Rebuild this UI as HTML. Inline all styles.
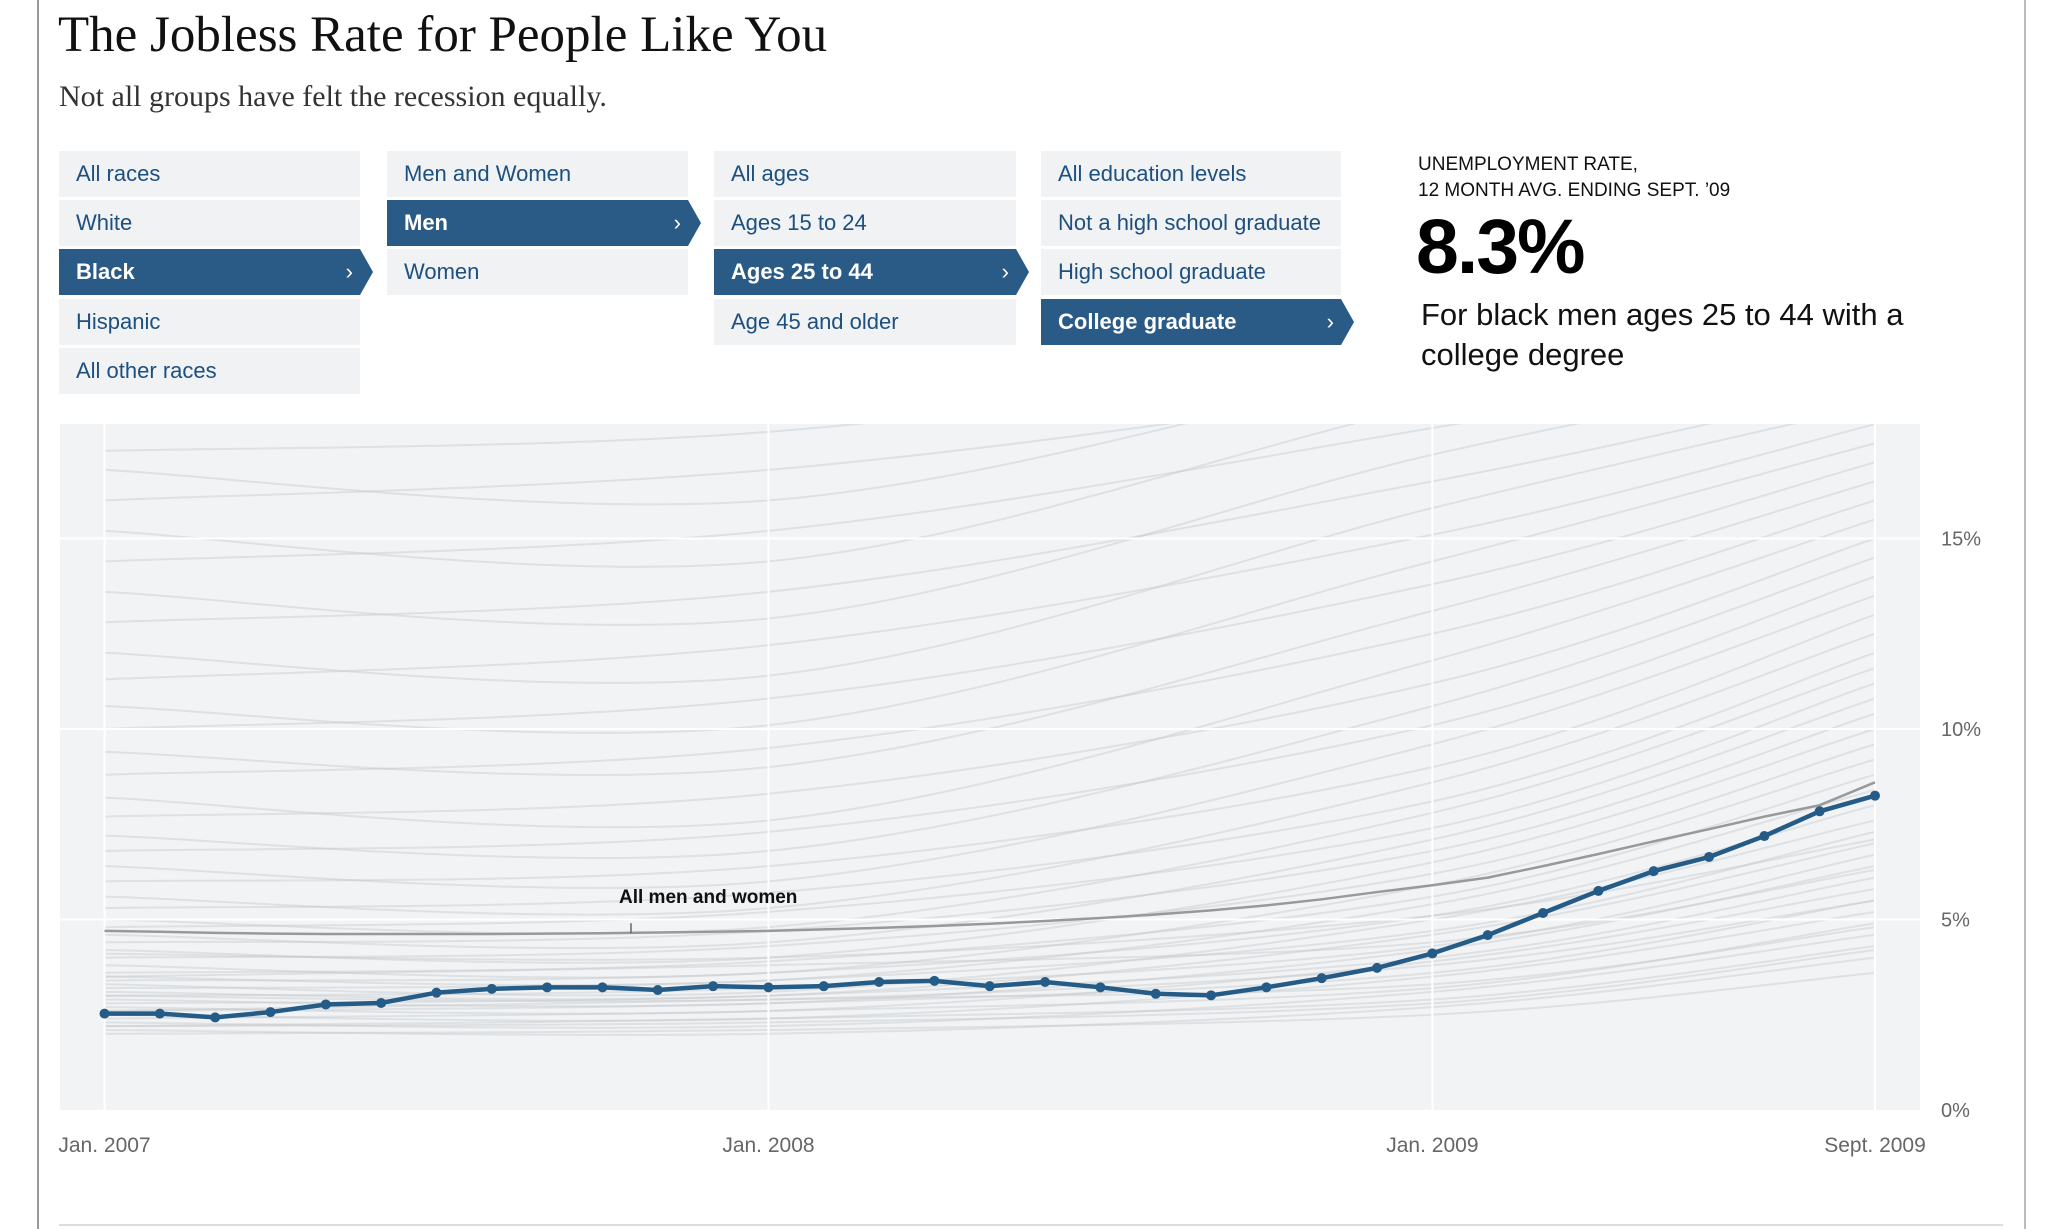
<!DOCTYPE html>
<html><head><meta charset="utf-8"><style>
body{margin:0;width:2048px;height:1229px;background:#fff;position:relative;overflow:hidden;font-family:"Liberation Sans",sans-serif}
.frame{position:absolute;left:37px;top:0;width:1985px;height:1229px;border-left:2px solid #999;border-right:2px solid #bbb}
h1{position:absolute;left:58px;top:6px;margin:0;font:400 51px "Liberation Serif",serif;color:#111;white-space:nowrap}
.sub{position:absolute;left:59px;top:80px;font:400 30px "Liberation Serif",serif;color:#333;white-space:nowrap}
.btn{position:absolute;height:46px;line-height:46px;background:#f0f2f4;color:#1d4f7f;font-size:22px;padding-left:17px;box-sizing:border-box;white-space:nowrap}
.btn.sel{background:#2a5a86;color:#fff;font-weight:bold;clip-path:polygon(0 0,calc(100% - 13px) 0,100% 50%,calc(100% - 13px) 100%,0 100%)}
.btn.sel .chev{position:absolute;right:20px;top:0;font-weight:normal}
.lab{position:absolute;left:1418px;font-size:19px;color:#111;white-space:nowrap}
.big{position:absolute;left:1416px;top:203px;font:bold 77px "Liberation Sans",sans-serif;color:#000;letter-spacing:-2px}
.desc{position:absolute;left:1421px;top:295px;font-size:31px;line-height:40px;color:#111;width:560px}
.bottom{position:absolute;left:59px;top:1224px;width:1944px;height:2px;background:#ddd}
svg{position:absolute;left:0;top:0}
</style></head><body>
<div class="frame"></div>
<h1>The Jobless Rate for People Like You</h1>
<div class="sub">Not all groups have felt the recession equally.</div>

<div class="btn" style="left:59px;top:151px;width:301px">All races</div>
<div class="btn" style="left:59px;top:200px;width:301px">White</div>
<div class="btn sel" style="left:59px;top:249px;width:314px">Black<span class="chev">›</span></div>
<div class="btn" style="left:59px;top:299px;width:301px">Hispanic</div>
<div class="btn" style="left:59px;top:348px;width:301px">All other races</div>

<div class="btn" style="left:387px;top:151px;width:301px">Men and Women</div>
<div class="btn sel" style="left:387px;top:200px;width:314px">Men<span class="chev">›</span></div>
<div class="btn" style="left:387px;top:249px;width:301px">Women</div>

<div class="btn" style="left:714px;top:151px;width:302px">All ages</div>
<div class="btn" style="left:714px;top:200px;width:302px">Ages 15 to 24</div>
<div class="btn sel" style="left:714px;top:249px;width:315px">Ages 25 to 44<span class="chev">›</span></div>
<div class="btn" style="left:714px;top:299px;width:302px">Age 45 and older</div>

<div class="btn" style="left:1041px;top:151px;width:300px">All education levels</div>
<div class="btn" style="left:1041px;top:200px;width:300px">Not a high school graduate</div>
<div class="btn" style="left:1041px;top:249px;width:300px">High school graduate</div>
<div class="btn sel" style="left:1041px;top:299px;width:313px">College graduate<span class="chev">›</span></div>

<div class="lab" style="top:154px">UNEMPLOYMENT RATE,</div>
<div class="lab" style="top:180px">12 MONTH AVG. ENDING SEPT. ’09</div>
<div class="big">8.3%</div>
<div class="desc">For black men ages 25 to 44 with a college degree</div>

<svg id="chart" width="2048" height="1229"></svg>
<div class="bottom"></div>

<script>
const groupRate = [2.53,2.53,2.43,2.57,2.77,2.81,3.08,3.18,3.22,3.22,3.15,3.25,3.22,3.25,3.36,3.39,3.25,3.36,3.22,3.05,3.01,3.22,3.46,3.73,4.11,4.59,5.17,5.75,6.27,6.64,7.19,7.84,8.25];
const allRate = [4.7,4.68,4.65,4.63,4.62,4.62,4.62,4.62,4.63,4.64,4.66,4.68,4.7,4.74,4.78,4.83,4.89,4.96,5.04,5.13,5.24,5.37,5.53,5.72,5.9,6.1,6.4,6.72,7.05,7.37,7.7,8.0,8.6];
const yTicks = [0,5,10,15];
const xTickLabels = ["Jan. 2007","Jan. 2008","Jan. 2009","Sept. 2009"];
const xTickMonths = [0,12,24,32];
// background groups: values at Jan07, Jan08, Jan09, Sept09
const bgJan07 = [2.0,2.1,2.2,2.3,2.4,2.5,2.6,2.7,2.8,2.9,3.0,3.1,3.2,3.3,3.4,3.5,3.6,3.8,4.0,4.2,4.4,4.6,4.8,5.0,5.3,5.6,6.0,6.4,6.8,7.2,7.7,8.2,8.8,9.4,10.0,10.6,11.3,12.0,12.8,13.6,14.4,15.2,16.0,16.8,17.3,2.2,2.6,3.0,3.5,4.1];
const bgJan08 = [2.1,2.0,2.4,2.2,2.6,2.4,2.8,2.6,3.0,2.8,3.2,3.0,3.4,3.1,3.6,3.4,3.9,3.6,4.3,4.0,4.7,4.4,5.2,4.8,5.7,5.3,6.4,6.0,7.3,6.8,8.3,7.6,9.5,9.0,10.8,10.1,12.2,11.4,13.6,12.9,15.2,14.4,16.8,16.0,17.8,2.3,2.9,2.9,3.8,4.0];
const bgJan09 = [2.5,2.7,2.9,3.1,3.2,3.5,3.6,3.9,4.0,4.2,4.3,4.6,4.7,5.0,5.1,5.4,5.6,5.9,6.2,6.5,6.8,7.1,7.4,7.8,8.1,8.6,9.0,9.6,10.1,10.6,11.2,11.8,12.5,13.1,13.8,14.4,15.1,15.8,16.5,17.2,17.9,18.5,19.0,19.5,20.0,2.8,3.3,3.8,4.4,5.1];
const bgSep09 = [3.6,4.0,4.3,4.6,4.9,5.2,5.5,5.8,6.1,6.4,6.7,7.0,7.3,7.6,8.0,8.4,8.8,9.2,9.6,10.0,10.4,10.8,11.2,11.6,12.0,12.5,13.0,13.5,14.0,14.5,15.0,15.5,16.0,16.5,17.0,17.5,18.0,18.5,19.0,19.5,20.0,20.5,21.0,21.5,22.0,4.2,4.8,5.5,6.3,7.1];

const NS="http://www.w3.org/2000/svg";
const svg=document.getElementById('chart');
const X0=104.5,X1=1875,Y0=1110,PER=38.1;
const xs=m=>X0+m*(X1-X0)/32;
const ys=v=>Y0-v*PER;
function el(t,a,p){const e=document.createElementNS(NS,t);for(const k in a)e.setAttribute(k,a[k]);(p||svg).appendChild(e);return e;}

const bg=el('rect',{x:60,y:424,width:1860,height:686,fill:'#f1f3f5'});


const defs=el('defs',{});
const cp=el('clipPath',{id:'clip'},defs);
el('rect',{x:60,y:424,width:1860,height:686},cp);
const g=el('g',{'clip-path':'url(#clip)'});


for(let i=0;i<bgJan07.length;i++){
  const pts=[[0,bgJan07[i]],[12,bgJan08[i]],[24,bgJan09[i]],[32,bgSep09[i]]];
  let d=`M${xs(pts[0][0])},${ys(pts[0][1])}`;
  for(let k=0;k<3;k++){
    const p0=pts[Math.max(k-1,0)],p1=pts[k],p2=pts[k+1],p3=pts[Math.min(k+2,3)];
    const c1x=xs(p1[0])+(xs(p2[0])-xs(p0[0]))/6,c1y=ys(p1[1])+(ys(p2[1])-ys(p0[1]))/6;
    const c2x=xs(p2[0])-(xs(p3[0])-xs(p1[0]))/6,c2y=ys(p2[1])-(ys(p3[1])-ys(p1[1]))/6;
    d+=` C${c1x},${c1y} ${c2x},${c2y} ${xs(p2[0])},${ys(p2[1])}`;
  }
  const p=el('path',{d:d,fill:'none',stroke:'#c4c6c9','stroke-width':2,opacity:0.4},g);
  
  
}
yTicks.forEach(t=>{
  if(t>0){const l=el('line',{x1:60,x2:1920,y1:ys(t),y2:ys(t),stroke:'#fff','stroke-width':2});
  
  }
  const tx=el('text',{x:1941,y:ys(t)+7,'font-size':20,fill:'#666','font-family':'Liberation Sans, sans-serif'});
  tx.textContent=t+'%';
  
  
});
xTickMonths.forEach((m,i)=>{
  const l=el('line',{x1:xs(m),x2:xs(m),y1:424,y2:1110,stroke:'#fff','stroke-width':2});
  
  
  const tx=el('text',{x:xs(m),y:1152,'font-size':21,fill:'#666','text-anchor':'middle','font-family':'Liberation Sans, sans-serif'});
  tx.textContent=xTickLabels[i];
  
  
});
const al=el('polyline',{points:allRate.map((v,i)=>xs(i)+','+ys(v)).join(' '),fill:'none',stroke:'#999','stroke-width':2.5});


const tick=el('line',{x1:631,x2:631,y1:ys(allRate[9])-10,y2:ys(allRate[9]),stroke:'#666','stroke-width':1.5});


const at=el('text',{x:619,y:903,'font-size':19,'font-weight':'bold',fill:'#111','font-family':'Liberation Sans, sans-serif'});
at.textContent='All men and women';


const gl=el('polyline',{points:groupRate.map((v,i)=>xs(i)+','+ys(v)).join(' '),fill:'none',stroke:'#245b87','stroke-width':4.5,'stroke-linejoin':'round'});


groupRate.forEach((v,i)=>{
  const c=el('circle',{cx:xs(i),cy:ys(v),r:5,fill:'#245b87'});
  
  
});
</script>
</body></html>
